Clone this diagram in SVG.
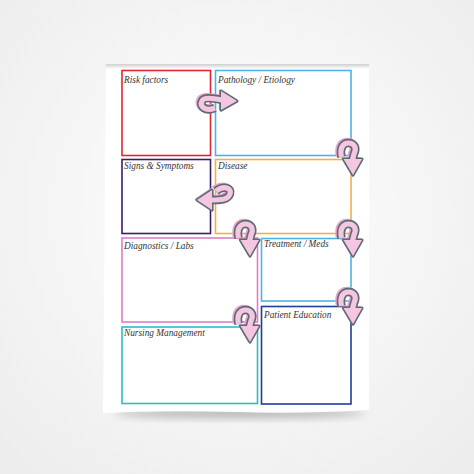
<svg xmlns="http://www.w3.org/2000/svg" xmlns:xlink="http://www.w3.org/1999/xlink" width="474" height="474" viewBox="0 0 474 474">
<defs>
<style>
.box{fill:none;stroke-width:1.6}
.lbl{font-family:"Liberation Serif","DejaVu Serif",serif;font-style:italic;font-size:9.3px;fill:#333333}
.sh{fill:none;stroke:#e7a3c9;stroke-width:8.5;stroke-linecap:butt}
.ol{fill:none;stroke:#5d6b76;stroke-width:8.5;stroke-linecap:butt}
.in{fill:none;stroke:#f5c6df;stroke-width:5.2;stroke-linecap:butt}
.hsh{fill:#e7a3c9;stroke:#e7a3c9;stroke-width:1.5;stroke-linejoin:round}
.hol{fill:#5d6b76;stroke:#5d6b76;stroke-width:3.2;stroke-linejoin:round}
.hin{fill:#f5c6df}
</style>
<radialGradient id="bg" cx="50%" cy="45%" r="70%">
<stop offset="0" stop-color="#ffffff"/>
<stop offset="1" stop-color="#ededed"/>
</radialGradient>
<filter id="blur" x="-20%" y="-50%" width="140%" height="200%"><feGaussianBlur stdDeviation="4"/></filter>
<linearGradient id="curlTop" x1="0" y1="0" x2="0" y2="1">
<stop offset="0" stop-color="#cfcfcf"/>
<stop offset="1" stop-color="#ffffff"/>
</linearGradient>
<g id="curl">
<g transform="translate(-1.5,-1)">
<path class="sh" d="M1.5,15 C-0.5,6 3,1 8.5,1 C14.5,1 17,6 14,12 L12.5,18"/>
<polygon class="hsh" points="3.5,17 22,17 13,33"/>
</g>
<path class="ol" d="M1.5,15 C-0.5,6 3,1 8.5,1 C14.5,1 17,6 14,12 L12.5,18"/>
<polygon class="hol" points="3.5,17 22,17 13,33"/>
<path class="in" d="M1.5,15 C-0.5,6 3,1 8.5,1 C14.5,1 17,6 14,12 L12.5,18"/>
<polygon class="hin" points="3.5,17 22,17 13,33"/>
</g>
</defs>
<rect width="474" height="474" fill="url(#bg)"/>
<g id="paper">
<ellipse cx="240" cy="413" rx="125" ry="5" fill="#9a9a9a" filter="url(#blur)" opacity="0.7"/>
<path d="M106,64 L369,64 L369,410 Q300,414 237,412 Q160,410 103,413 Z" fill="#ffffff"/>
<rect x="106" y="64" width="263" height="5" fill="url(#curlTop)"/>
</g>
<g id="risk-factors"><rect class="box" x="122" y="70.5" width="88.5" height="85" stroke="#e0272f"/><text class="lbl" x="124" y="83">Risk factors</text></g>
<g id="pathology"><rect class="box" x="215.5" y="70.5" width="135.5" height="85" stroke="#4db2e6"/><text class="lbl" x="218" y="83">Pathology / Etiology</text></g>
<g id="signs-symptoms"><rect class="box" x="122" y="159.5" width="88.5" height="74" stroke="#3b1d68"/><text class="lbl" x="124" y="169">Signs &amp; Symptoms</text></g>
<g id="disease"><rect class="box" x="215.5" y="159.5" width="135.5" height="74" stroke="#f5ad4a"/><text class="lbl" x="218" y="169">Disease</text></g>
<g id="diagnostics"><rect class="box" x="122" y="238" width="135.5" height="84" stroke="#df7dc7"/><text class="lbl" x="124" y="249">Diagnostics / Labs</text></g>
<g id="treatment"><rect class="box" x="261.5" y="238.5" width="89.5" height="62.5" stroke="#4db2e6"/><text class="lbl" x="264" y="246.5">Treatment / Meds</text></g>
<g id="nursing"><rect class="box" x="122" y="327" width="135.5" height="76.5" stroke="#2cbec3"/><text class="lbl" x="124" y="336">Nursing Management</text></g>
<g id="patient-education"><rect class="box" x="261.5" y="306.5" width="89.5" height="97.5" stroke="#1f3e96"/><text class="lbl" x="264" y="318">Patient Education</text></g>
<g id="connectors">
<g id="arrow-risk-pathology">
<g transform="translate(-1.5,-1)">
<path class="sh" d="M215,108 C205,112 199,106 202,101 C204,97 212,98 222,100"/>
<polygon class="hsh" points="221,91 237,101 221,110"/>
</g>
<path class="ol" d="M215,108 C205,112 199,106 202,101 C204,97 212,98 222,100"/>
<polygon class="hol" points="221,91 237,101 221,110"/>
<path class="in" d="M215,108 C205,112 199,106 202,101 C204,97 212,98 222,100"/>
<polygon class="hin" points="221,91 237,101 221,110"/>
</g>
<g id="arrow-disease-signs">
<g transform="translate(-1.5,-1)">
<path class="sh" d="M216,191 C224,185 232,188 230,194 C228,200 220,200 211,200"/>
<polygon class="hsh" points="212,190 197,200 212,210"/>
</g>
<path class="ol" d="M216,191 C224,185 232,188 230,194 C228,200 220,200 211,200"/>
<polygon class="hol" points="212,190 197,200 212,210"/>
<path class="in" d="M216,191 C224,185 232,188 230,194 C228,200 220,200 211,200"/>
<polygon class="hin" points="212,190 197,200 212,210"/>
</g>
<use xlink:href="#curl" transform="translate(340,142)"/>
<use xlink:href="#curl" transform="translate(237,223)"/>
<use xlink:href="#curl" transform="translate(340,223)"/>
<use xlink:href="#curl" transform="translate(340,291)"/>
<use xlink:href="#curl" transform="translate(237,309)"/>
</g>
</svg>
